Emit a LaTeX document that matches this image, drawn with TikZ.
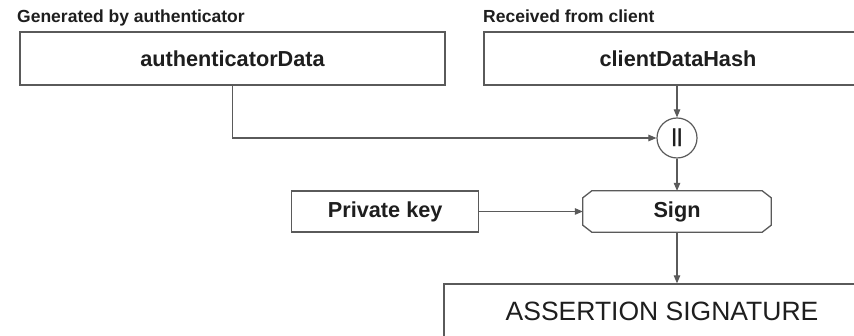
\documentclass[tikz,border=0pt]{standalone}
\usepackage{fontspec}
\setmainfont{Liberation Sans}
\usetikzlibrary{arrows.meta}
\definecolor{linegray}{HTML}{5A5A5A}
\definecolor{txt}{HTML}{1E1E1E}
\begin{document}
\begin{tikzpicture}[x=1pt,y=-1pt,
  box/.style={draw=linegray, line width=1.3pt, rectangle, inner sep=0pt, text=txt},
  hdr/.style={anchor=base west, inner sep=0pt, text=txt, font=\bfseries\fontsize{17.5}{20}\selectfont},
  lbl/.style={font=\bfseries\fontsize{21.7}{26}\selectfont},
  conn/.style={draw=linegray, line width=1.1pt},
  arr/.style={conn, -{Triangle[length=8pt,width=6.5pt]}}]
\useasboundingbox (0,0) rectangle (854,336);
\clip (0,0) rectangle (854,336);
\fill[white] (0,0) rectangle (854,336);

\node[hdr] (h1) at (17,23) {Generated by authenticator};
\node[hdr] (h2) at (483,23) {Received from client};

\node[box, lbl, minimum width=425pt, minimum height=53pt] (ad) at (232.5,58.5) {authenticatorData};
\node[box, lbl, minimum width=388pt, minimum height=53pt] (cdh) at (678,58.5) {clientDataHash};

\node[circle, draw=linegray, line width=1.2pt, minimum size=40pt, inner sep=0pt, text=txt,
      font=\bfseries\fontsize{19}{22}\selectfont] (cat) at (677,138) {||};

\node[box, lbl, minimum width=187pt, minimum height=41pt] (pk) at (385.2,211.5) {Private key};
\node[inner sep=0pt, minimum width=188pt, minimum height=41pt, text=txt, lbl] (sign) at (677,211.5) {Sign};
\draw[linegray, line width=1.3pt]
  ([xshift=9pt]sign.north west) -- ([xshift=-9pt]sign.north east)
  -- ([yshift=-7pt]sign.north east) -- ([yshift=7pt]sign.south east)
  -- ([xshift=-9pt]sign.south east) -- ([xshift=9pt]sign.south west)
  -- ([yshift=7pt]sign.south west) -- ([yshift=-7pt]sign.north west) -- cycle;

\node[box, minimum width=466pt, minimum height=80pt] (sig) at (677,324) {};
\node[text=txt, inner sep=0pt, font=\fontsize{26.5}{30}\selectfont] (sigtext) at (662,311) {ASSERTION SIGNATURE};

\coordinate (bend) at (232.5,138);
\draw[arr] (ad.south) -- (bend) -- (cat.west);
\draw[arr] (cdh.south -| cat.north) -- (cat.north);
\draw[arr] (cat.south) -- (sign.north);
\draw[arr] (pk.east) -- (sign.west);
\draw[arr] (sign.south) -- (sig.north);
\end{tikzpicture}
\end{document}
